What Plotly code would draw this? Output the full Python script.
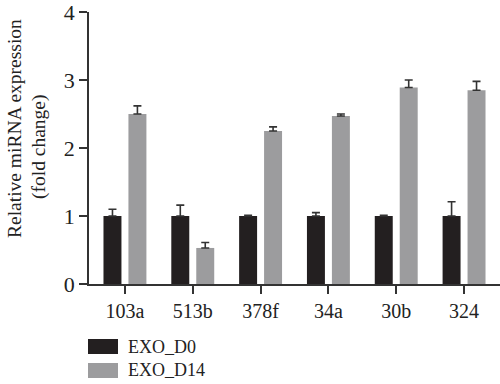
import plotly.graph_objects as go

categories = ["103a", "513b", "378f", "34a", "30b", "324"]
d0_values = [1.0, 1.0, 1.0, 1.0, 1.0, 1.0]
d0_err = [0.10, 0.16, 0.01, 0.05, 0.01, 0.21]
d14_values = [2.50, 0.53, 2.25, 2.47, 2.89, 2.85]
d14_err = [0.12, 0.08, 0.06, 0.03, 0.11, 0.13]
series_names = ["EXO_D0", "EXO_D14"]
y_ticks = [0, 1, 2, 3, 4]
y_title_lines = ["Relative miRNA expression", "(fold change)"]

BLACK = "#231f20"
GRAY = "#9c9c9e"
FONT = "Liberation Serif"
TXT = "#222222"

fig = go.Figure()
for name, vals, errs, col in [(series_names[0], d0_values, d0_err, BLACK),
                              (series_names[1], d14_values, d14_err, GRAY)]:
    fig.add_trace(go.Bar(
        x=categories, y=vals, name=name, marker=dict(color=col, line=dict(width=0)),
        error_y=dict(type="data", array=errs, arrayminus=[0] * len(errs), symmetric=False,
                     color="#333333", thickness=1.6, width=4),
        showlegend=False,
    ))

# helpers: window pixel -> paper coords (plot area spans x 89..500, y 12..284)
H = 272.0
W = 411.0
def py(px):
    return (284 - px) / H
def pxx(px):
    return (px - 89) / W

# manual legend (large swatches like the original)
for i, (name, col) in enumerate(zip(series_names, [BLACK, GRAY])):
    top = 339 + i * 24
    fig.add_shape(type="rect", xref="paper", yref="paper",
                  x0=pxx(88), x1=pxx(118), y0=py(top + 15), y1=py(top),
                  fillcolor=col, line=dict(width=0))
    fig.add_annotation(xref="paper", yref="paper", x=pxx(126), y=py(top + 7.5),
                       text=name, showarrow=False, xanchor="left", yanchor="middle",
                       font=dict(family=FONT, size=18, color=TXT))

# y-axis title as two rotated lines
for (txt, cx, cy) in [(y_title_lines[0], 14, 129), (y_title_lines[1], 39, 147)]:
    fig.add_annotation(xref="paper", yref="paper", x=pxx(cx), y=py(cy), text=txt,
                       textangle=-90, showarrow=False, xanchor="center", yanchor="middle",
                       font=dict(family=FONT, size=19.5, color=TXT))

fig.update_layout(
    width=500, height=384,
    margin=dict(l=89, r=0, t=12, b=100),
    plot_bgcolor="white", paper_bgcolor="white",
    barmode="group", bargap=0.264, bargroupgap=0.28,
    font=dict(family=FONT, color=TXT),
    xaxis=dict(range=[-0.53, 5.53], showline=True, linecolor="#333333", linewidth=1.5,
               ticks="outside", ticklen=8, tickwidth=1.5, tickcolor="#333333",
               tickfont=dict(family=FONT, size=20, color=TXT), showgrid=False,
               zeroline=False, ticklabeloverflow="allow"),
    yaxis=dict(range=[0, 4], tickvals=y_ticks, showline=True, linecolor="#333333",
               linewidth=1.5, ticks="outside", ticklen=8, tickwidth=1.5, tickcolor="#333333",
               tickfont=dict(family=FONT, size=22, color=TXT), showgrid=False,
               zeroline=False, ticklabeloverflow="allow"),
)

fig.write_html(
    "out.html",
    config={"displayModeBar": False},
    post_script="document.body.style.margin='0';document.body.style.overflow='hidden';",
)
